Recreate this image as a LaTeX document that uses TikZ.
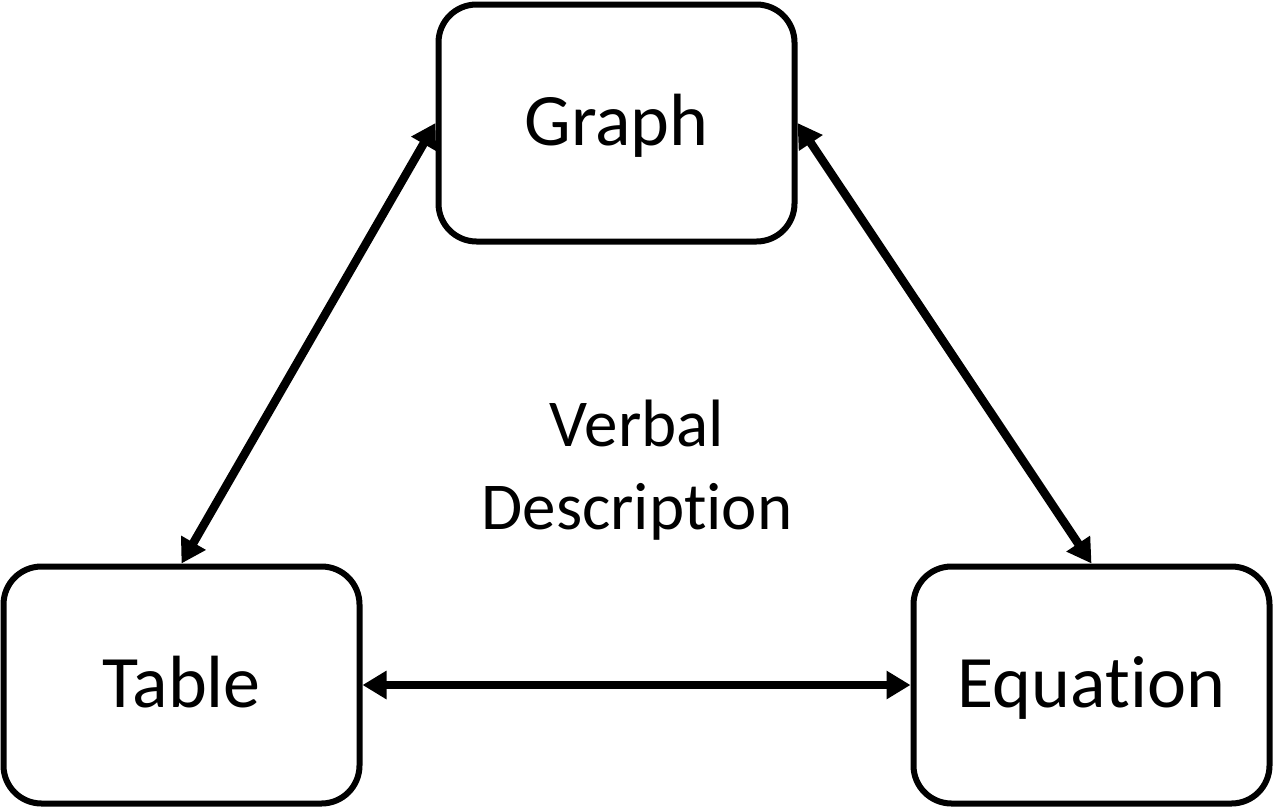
\documentclass[tikz,border=0pt]{standalone}
\usepackage{fontspec}
\setmainfont{Carlito}[Ligatures=NoCommon]
\usetikzlibrary{arrows.meta}
\begin{document}
\begin{tikzpicture}[x=1pt,y=-1pt,
 box/.style={draw, line width=6pt, rounded corners=38pt, minimum width=356pt, minimum height=237pt, inner sep=0pt, text height=44pt, text depth=0pt, font=\fontsize{74}{88}\selectfont},
 link/.style={line width=8.5pt, {Triangle[length=24pt,width=27pt]}-{Triangle[length=24pt,width=27pt]}}]
\useasboundingbox (0,0) rectangle (1274,809);
\node[box] (graph) at (616.5,123) {Graph};
\node[box] (table) at (181.5,685) {Table};
\node[box] (equation) at (1091.5,685) {Equation};
\node[align=center, font=\fontsize{67}{83}\selectfont, inner sep=0pt] (verbal) at (637,470) {Verbal\\Description};
\draw[link] (graph.west) -- (table.north);
\draw[link] (graph.east) -- (equation.north);
\draw[link] (table.east) -- (equation.west);
\end{tikzpicture}
\end{document}
